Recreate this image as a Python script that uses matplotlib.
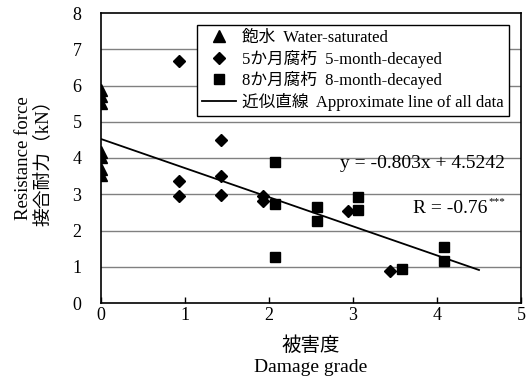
import numpy as np
import matplotlib
matplotlib.use("Agg")
import matplotlib.pyplot as plt

plt.rcParams['font.family'] = ['Liberation Serif', 'Noto Sans CJK JP']

# Data
sat_x = [0, 0, 0, 0, 0, 0, 0]
sat_y = [5.88, 5.70, 5.51, 4.17, 4.02, 3.71, 3.53]

m5_x = [0.93, 0.93, 0.93, 1.43, 1.43, 1.43, 1.93, 1.93, 2.94, 3.44]
m5_y = [6.68, 3.37, 2.95, 4.50, 3.50, 2.98, 2.95, 2.82, 2.54, 0.88]

m8_x = [2.07, 2.07, 2.07, 2.57, 2.57, 3.06, 3.06, 3.58, 4.08, 4.08]
m8_y = [3.90, 2.73, 1.28, 2.64, 2.27, 2.92, 2.57, 0.93, 1.55, 1.17]

slope, intercept = -0.803, 4.5242
fit_range = [0, 4.5]

labels = ["飽水  Water-saturated",
          "5か月腐朽  5-month-decayed",
          "8か月腐朽  8-month-decayed",
          "近似直線  Approximate line of all data"]

fig = plt.figure(figsize=(5.27, 3.76), dpi=100)
ax = fig.add_axes([101 / 527, 73 / 376, 420 / 527, 290 / 376])

for yv in range(1, 8):
    ax.axhline(yv, color='#808080', lw=1.0, zorder=1)

ax.plot(sat_x, sat_y, '^', color='black', ms=8.5, ls='none', label=labels[0], zorder=3)
ax.plot(m5_x, m5_y, 'D', color='black', ms=6, ls='none', label=labels[1], zorder=3)
ax.plot(m8_x, m8_y, 's', color='black', ms=7.2, ls='none', label=labels[2], zorder=3)
fx = np.array(fit_range)
ax.plot(fx, slope * fx + intercept, color='black', lw=1.3, label=labels[3], zorder=2)

ax.text(4.81, 3.86, "y = -0.803x + 4.5242", ha='right', va='center', fontsize=14)
ax.text(4.60, 2.62, "R = -0.76", ha='right', va='center', fontsize=14)
ax.text(4.61, 2.80, "***", ha='left', va='center', fontsize=8)

ax.set_xlim(0, 5)
ax.set_ylim(0, 8)
ax.set_xticks(range(0, 6))
ax.set_yticks(range(0, 9))
ax.tick_params(axis='x', direction='in', length=4, width=1, labelsize=13, pad=3)
ax.tick_params(axis='y', length=0, labelsize=13, pad=14)
for s in ax.spines.values():
    s.set_linewidth(1.2)

ax.set_xlabel("被害度\nDamage grade", fontsize=14, labelpad=9, linespacing=1.25)
ax.set_ylabel("Resistance force\n接合耐力（kN）", fontsize=13.5, labelpad=15, linespacing=1.15)

leg = ax.legend(loc='upper left', bbox_to_anchor=(0.229, 0.959), borderaxespad=0,
                fontsize=12, frameon=True, fancybox=False, edgecolor='black',
                framealpha=1, handlelength=2.0, handletextpad=0.4,
                labelspacing=0.22, borderpad=0.3)
leg.get_frame().set_linewidth(1.0)
leg.set_zorder(5)

fig.savefig("out.png", dpi=100)
